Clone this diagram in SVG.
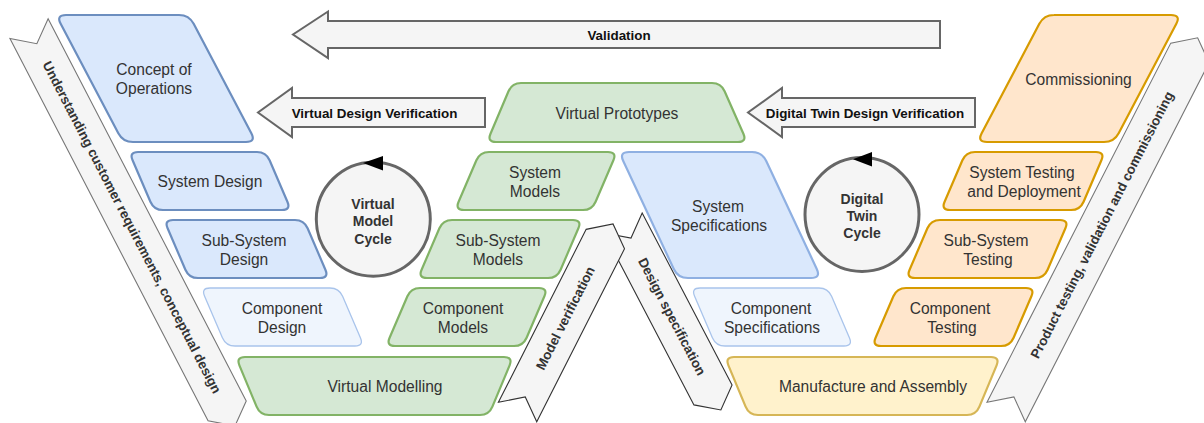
<svg xmlns="http://www.w3.org/2000/svg" width="1204" height="423" viewBox="0 0 1204 423">
  <style>
    .blue { fill: #dae8fc; stroke: #6c8ebf; stroke-width: 2.2; }
    .spec { fill: #dae8fc; stroke: #8fb0e2; stroke-width: 2.2; }
    .pale { fill: #eff5fd; stroke: #a9c4eb; stroke-width: 1.3; }
    .green { fill: #d5e8d4; stroke: #82b366; stroke-width: 2.2; }
    .orange { fill: #ffe6cc; stroke: #d79b00; stroke-width: 2.2; }
    .yellow { fill: #fff2cc; stroke: #d6b656; stroke-width: 2.2; }
    .blk { fill: #f5f5f5; stroke: #666666; stroke-width: 2; }
    .band { fill: #f5f5f5; stroke: #777777; stroke-width: 1.1; }
    .band2 { fill: #f5f5f5; stroke: #333333; stroke-width: 1.1; }
    .cycle { fill: #f5f5f5; stroke: #666666; stroke-width: 3; }
    .lbl { font-family: "Liberation Sans", Arial, sans-serif; font-size: 15.6px; fill: #333333; text-anchor: middle; }
    .b { font-family: "Liberation Sans", Arial, sans-serif; font-size: 13.4px; font-weight: bold; fill: #111111; text-anchor: middle; }
    .bc { font-family: "Liberation Sans", Arial, sans-serif; font-size: 14px; font-weight: bold; fill: #333333; text-anchor: middle; }
    .bt { font-family: "Liberation Sans", Arial, sans-serif; font-size: 13.4px; font-weight: bold; fill: #333333; text-anchor: middle; }
  </style>

  <!-- connectors: process arrows and diagonal phase bands -->
  <g id="connectors">
    <g id="validation">
      <path class="blk" d="M 940,21 H 328 V 11.5 L 293,34.5 L 328,58 V 48 H 940 Z"/>
      <text class="b" x="619" y="40">Validation</text>
    </g>
    <g id="virtual-design-verification">
      <path class="blk" d="M 485,98 H 292 V 88 L 258,112.5 L 292,137 V 127 H 485 Z"/>
      <text class="b" x="374.5" y="118">Virtual Design Verification</text>
    </g>
    <g id="digital-twin-design-verification">
      <path class="blk" d="M 975,98 H 782 V 88 L 748,112.5 L 782,137 V 127 H 975 Z"/>
      <text class="b" x="865" y="118">Digital Twin Design Verification</text>
    </g>
    <g id="band-understanding" transform="translate(132,227.3) rotate(62.6)">
      <path class="band" d="M -223.75,-21.5 L 206.75,-21.5 L 223.75,0 L 206.75,21.5 L -223.75,21.5 L -206.75,0 Z"/>
      <text class="bt" x="0" y="0" dy="0.35em">Understanding customer requirements, conceptual design</text>
    </g>
    <g id="band-design-spec" transform="translate(672,316.5) rotate(62.4)">
      <path class="band2" d="M -105.5,-21.5 L 88.5,-21.5 L 105.5,0 L 88.5,21.5 L -105.5,21.5 L -88.5,0 Z"/>
      <text class="bt" x="0" y="0" dy="0.35em">Design specification</text>
    </g>
    <g id="band-model-verification" transform="translate(565.3,318) rotate(-63.1)">
      <path class="band2" d="M -105.5,-21.5 L 88.5,-21.5 L 105.5,0 L 88.5,21.5 L -105.5,21.5 L -88.5,0 Z"/>
      <text class="bt" x="0" y="0" dy="0.35em">Model verification</text>
    </g>
    <g id="band-product-testing" transform="translate(1101.9,224.9) rotate(-62.9)">
      <path class="band" d="M -210.2,-21.5 L 193.2,-21.5 L 210.2,0 L 193.2,21.5 L -210.2,21.5 L -193.2,0 Z"/>
      <text class="bt" x="0" y="0" dy="0.35em">Product testing, validation and commissioning</text>
    </g>
  </g>

  <!-- design branch -->
  <g id="concept-of-operations">
    <path class="blue" d="M 66,15 h 113 q 10,0 14.67,8.84 l 57.66,109.32 q 4.67,8.84 -5.33,8.84 h -113 q -10,0 -14.67,-8.84 l -57.66,-109.32 q -4.67,-8.84 5.33,-8.84 z"/>
    <text class="lbl" x="154" y="75">Concept of</text>
    <text class="lbl" x="154" y="94">Operations</text>
  </g>
  <g id="system-design">
    <path class="blue" d="M 138,152 h 119 q 9,0 12.6,8.3 l 17.8,41.4 q 3.6,8.3 -5.4,8.3 h -119 q -9,0 -12.6,-8.3 l -17.8,-41.4 q -3.6,-8.3 5.4,-8.3 z"/>
    <text class="lbl" x="210" y="186.5">System Design</text>
  </g>
  <g id="sub-system-design">
    <path class="blue" d="M 173,220 h 122 q 9,0 12.6,8.3 l 17.8,41.4 q 3.6,8.3 -5.4,8.3 h -122 q -9,0 -12.6,-8.3 l -17.8,-41.4 q -3.6,-8.3 5.4,-8.3 z"/>
    <text class="lbl" x="244" y="246">Sub-System</text>
    <text class="lbl" x="244" y="265">Design</text>
  </g>
  <g id="component-design">
    <path class="pale" d="M 210,288 h 120 q 9,0 12.6,8.3 l 17.8,41.4 q 3.6,8.3 -5.4,8.3 h -120 q -9,0 -12.6,-8.3 l -17.8,-41.4 q -3.6,-8.3 5.4,-8.3 z"/>
    <text class="lbl" x="282" y="314">Component</text>
    <text class="lbl" x="282" y="333">Design</text>
  </g>

  <!-- virtual modelling branch -->
  <g id="virtual-prototypes">
    <path class="green" d="M 521,83 h 191 q 9,0 12.6,8.2 l 18.8,42.6 q 3.6,8.2 -5.4,8.2 h -242 q -9,0 -5.5,-8.3 l 18,-42.4 q 3.5,-8.3 12.5,-8.3 z"/>
    <text class="lbl" x="617" y="118.5">Virtual Prototypes</text>
  </g>
  <g id="system-models">
    <path class="green" d="M 489,152 h 119 q 9,0 5.4,8.3 l -17.8,41.4 q -3.6,8.3 -12.6,8.3 h -119 q -9,0 -5.4,-8.3 l 17.8,-41.4 q 3.6,-8.3 12.6,-8.3 z"/>
    <text class="lbl" x="535" y="178">System</text>
    <text class="lbl" x="535" y="197">Models</text>
  </g>
  <g id="sub-system-models">
    <path class="green" d="M 452,220 h 121 q 9,0 5.4,8.3 l -17.8,41.4 q -3.6,8.3 -12.6,8.3 h -121 q -9,0 -5.4,-8.3 l 17.8,-41.4 q 3.6,-8.3 12.6,-8.3 z"/>
    <text class="lbl" x="498" y="246">Sub-System</text>
    <text class="lbl" x="498" y="265">Models</text>
  </g>
  <g id="component-models">
    <path class="green" d="M 420,288 h 119 q 9,0 5.4,8.3 l -17.8,41.4 q -3.6,8.3 -12.6,8.3 h -119 q -9,0 -5.4,-8.3 l 17.8,-41.4 q 3.6,-8.3 12.6,-8.3 z"/>
    <text class="lbl" x="463" y="314">Component</text>
    <text class="lbl" x="463" y="333">Models</text>
  </g>
  <g id="virtual-modelling">
    <path class="green" d="M 245,357 h 259 q 9,0 5.6,8.3 l -17.2,41.4 q -3.4,8.3 -12.4,8.3 h -211 q -9,0 -12.4,-8.3 l -17.2,-41.4 q -3.4,-8.3 5.6,-8.3 z"/>
    <text class="lbl" x="385" y="392">Virtual Modelling</text>
  </g>
  <g id="virtual-model-cycle">
    <circle class="cycle" cx="373.3" cy="219.2" r="57"/>
    <path d="M 383,156 L 383,170.5 L 363,163 Z" fill="#000000"/>
    <text class="bc" x="373" y="208.5">Virtual</text>
    <text class="bc" x="373" y="226">Model</text>
    <text class="bc" x="373" y="243.5">Cycle</text>
  </g>

  <!-- specification and realisation branch -->
  <g id="system-specifications">
    <path class="spec" d="M 629,152 h 123 q 10,0 14.24,9.06 l 50.52,107.88 q 4.24,9.06 -5.76,9.06 h -123 q -10,0 -14.24,-9.06 l -50.52,-107.88 q -4.24,-9.06 5.76,-9.06 z"/>
    <text class="lbl" x="718" y="211.5">System</text>
    <text class="lbl" x="719" y="231">Specifications</text>
  </g>
  <g id="component-specifications">
    <path class="pale" d="M 700,288 h 119 q 9,0 12.6,8.3 l 17.8,41.4 q 3.6,8.3 -5.4,8.3 h -119 q -9,0 -12.6,-8.3 l -17.8,-41.4 q -3.6,-8.3 5.4,-8.3 z"/>
    <text class="lbl" x="771" y="314">Component</text>
    <text class="lbl" x="772" y="333">Specifications</text>
  </g>
  <g id="manufacture-and-assembly">
    <path class="yellow" d="M 734,357 h 257 q 9,0 5.6,8.3 l -17.2,41.4 q -3.4,8.3 -12.4,8.3 h -209 q -9,0 -12.4,-8.3 l -17.2,-41.4 q -3.4,-8.3 5.6,-8.3 z"/>
    <text class="lbl" x="873" y="392">Manufacture and Assembly</text>
  </g>
  <g id="digital-twin-cycle">
    <circle class="cycle" cx="862" cy="214.5" r="57"/>
    <path d="M 872,152 L 872,166.5 L 853,159.3 Z" fill="#000000"/>
    <text class="bc" x="862" y="204">Digital</text>
    <text class="bc" x="862" y="221">Twin</text>
    <text class="bc" x="862" y="238">Cycle</text>
  </g>

  <!-- testing branch -->
  <g id="commissioning">
    <path class="orange" d="M 1054,15 h 117 q 10,0 5.33,8.84 l -57.66,109.32 q -4.67,8.84 -14.67,8.84 h -117 q -10,0 -5.33,-8.84 l 57.66,-109.32 q 4.67,-8.84 14.67,-8.84 z"/>
    <text class="lbl" x="1078.5" y="85">Commissioning</text>
  </g>
  <g id="system-testing-and-deployment">
    <path class="orange" d="M 975,152 h 121 q 9,0 5.4,8.3 l -17.8,41.4 q -3.6,8.3 -12.6,8.3 h -121 q -9,0 -5.4,-8.3 l 17.8,-41.4 q 3.6,-8.3 12.6,-8.3 z"/>
    <text class="lbl" x="1022" y="178">System Testing</text>
    <text class="lbl" x="1024" y="197">and Deployment</text>
  </g>
  <g id="sub-system-testing">
    <path class="orange" d="M 940,220 h 120 q 9,0 5.4,8.3 l -17.8,41.4 q -3.6,8.3 -12.6,8.3 h -120 q -9,0 -5.4,-8.3 l 17.8,-41.4 q 3.6,-8.3 12.6,-8.3 z"/>
    <text class="lbl" x="986" y="246">Sub-System</text>
    <text class="lbl" x="988" y="265">Testing</text>
  </g>
  <g id="component-testing">
    <path class="orange" d="M 906,288 h 120 q 9,0 5.4,8.3 l -17.8,41.4 q -3.6,8.3 -12.6,8.3 h -120 q -9,0 -5.4,-8.3 l 17.8,-41.4 q 3.6,-8.3 12.6,-8.3 z"/>
    <text class="lbl" x="950" y="314">Component</text>
    <text class="lbl" x="952" y="333">Testing</text>
  </g>
</svg>
